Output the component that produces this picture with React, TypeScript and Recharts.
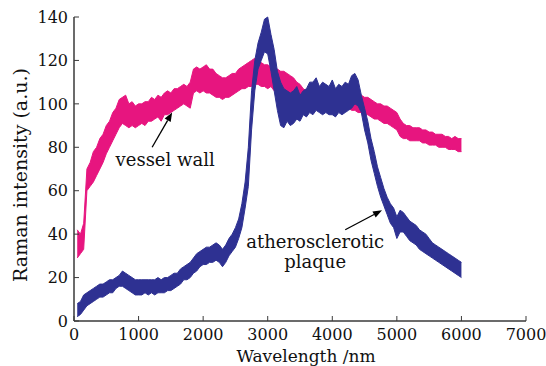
import { ComposedChart, Area, XAxis, YAxis, ReferenceLine } from 'recharts'

const wavelength = [
  50, 100, 150, 200, 250, 300, 350, 400, 450, 500,
  550, 600, 650, 700, 750, 800, 850, 900, 950, 1000,
  1050, 1100, 1150, 1200, 1250, 1300, 1350, 1400, 1450, 1500,
  1550, 1600, 1650, 1700, 1750, 1800, 1850, 1900, 1950, 2000,
  2050, 2100, 2150, 2200, 2250, 2300, 2350, 2400, 2450, 2500,
  2550, 2600, 2650, 2700, 2750, 2800, 2850, 2900, 2950, 3000,
  3050, 3100, 3150, 3200, 3250, 3300, 3350, 3400, 3450, 3500,
  3550, 3600, 3650, 3700, 3750, 3800, 3850, 3900, 3950, 4000,
  4050, 4100, 4150, 4200, 4250, 4300, 4350, 4400, 4450, 4500,
  4550, 4600, 4650, 4700, 4750, 4800, 4850, 4900, 4950, 5000,
  5050, 5100, 5150, 5200, 5250, 5300, 5350, 5400, 5450, 5500,
  5550, 5600, 5650, 5700, 5750, 5800, 5850, 5900, 5950, 6000,
]

// vessel wall: lower / upper edge of the noisy trace
const vesselLow = [
  29, 31, 33, 60, 62, 64, 67, 70, 73, 77,
  80, 83, 86, 89, 91, 90, 89, 90, 89, 90,
  91, 90, 92, 92, 93, 94, 92, 95, 95, 96,
  97, 98, 99, 100, 99, 98, 105, 106, 105, 106,
  105, 105, 104, 103, 103, 102, 103, 103, 104, 105,
  106, 107, 107, 108, 108, 109, 109, 108, 108, 107,
  108, 106, 106, 105, 104, 104, 103, 102, 101, 100,
  99, 98, 98, 97, 98, 97, 97, 98, 97, 97,
  97, 98, 97, 97, 98, 97, 97, 96, 96, 95,
  95, 94, 93, 93, 92, 91, 91, 90, 89, 88,
  85, 84, 84, 83, 83, 83, 83, 82, 82, 81,
  81, 81, 80, 80, 80, 79, 79, 79, 78, 78,
]
const vesselHigh = [
  42, 40, 45, 70, 73, 78, 80, 84, 86, 90,
  92, 96, 98, 102, 103, 104, 100, 101, 99, 100,
  100, 101, 101, 103, 102, 104, 103, 105, 106, 105,
  107, 107, 108, 109, 108, 110, 116, 117, 116, 117,
  118, 116, 116, 114, 113, 112, 112, 113, 114, 114,
  116, 117, 118, 119, 120, 121, 120, 119, 118, 118,
  117, 117, 116, 115, 115, 114, 113, 112, 110, 109,
  107, 106, 106, 105, 106, 105, 105, 106, 105, 105,
  105, 106, 105, 105, 106, 105, 105, 104, 104, 103,
  103, 102, 101, 100, 100, 99, 99, 98, 97, 96,
  93, 91, 90, 90, 89, 89, 89, 88, 88, 87,
  87, 86, 86, 86, 85, 85, 84, 85, 84, 84,
]

// atherosclerotic plaque: lower / upper edge
const plaqueLow = [
  2, 3, 5, 7, 8, 9, 10, 11, 11, 12,
  13, 13, 15, 16, 16, 15, 14, 13, 12, 12,
  12, 13, 12, 13, 12, 13, 13, 13, 14, 14,
  15, 16, 17, 19, 19, 20, 22, 23, 25, 26,
  26, 27, 27, 28, 27, 25, 27, 30, 32, 34,
  38, 43, 52, 62, 88, 106, 116, 120, 124, 123,
  115, 106, 97, 90, 89, 92, 90, 91, 93, 92,
  95, 94, 96, 95, 97, 96, 95, 96, 95, 95,
  94, 96, 95, 96, 97, 98, 100, 99, 96, 88,
  82, 74, 68, 62, 57, 53, 49, 45, 43, 38,
  41, 41, 39, 37, 36, 35, 33, 32, 31, 30,
  29, 28, 27, 26, 25, 24, 23, 22, 21, 20,
]
const plaqueHigh = [
  8, 9, 12, 13, 14, 15, 16, 17, 17, 18,
  19, 19, 20, 21, 23, 22, 21, 20, 19, 19,
  19, 19, 19, 19, 19, 20, 19, 20, 20, 21,
  22, 22, 24, 25, 26, 27, 29, 31, 32, 33,
  34, 34, 35, 36, 35, 33, 35, 38, 40, 43,
  47, 54, 64, 80, 106, 120, 128, 133, 139, 140,
  132, 125, 115, 110, 107, 106, 105, 106, 108, 104,
  106, 107, 110, 110, 112, 108, 110, 109, 108, 111,
  107, 109, 108, 110, 109, 113, 114, 111, 104, 98,
  92, 84, 78, 71, 66, 61, 57, 54, 52, 48,
  51, 50, 48, 46, 45, 44, 42, 41, 40, 38,
  36, 35, 34, 33, 32, 31, 30, 29, 28, 27,
]

const xTicks = [0, 1000, 2000, 3000, 4000, 5000, 6000, 7000]
const yTicks = [0, 20, 40, 60, 80, 100, 120, 140]

const data = wavelength.map((w, i) => ({
  w,
  vessel: [vesselLow[i], vesselHigh[i]],
  plaque: [plaqueLow[i], plaqueHigh[i]],
}))

const PINK = '#E7157F'
const BLUE = '#2E3192'
const AXIS = '#3a3a3a'
const FONT = 'DejaVu Serif'
const tickStyle = { fontSize: 16, fill: '#111', fontFamily: FONT }

const arrow = (lines: string[], dx: number, dy: number) => (p: any) => {
  const { x1, y1, x2, y2 } = p
  const ang = Math.atan2(y2 - y1, x2 - x1)
  const len = 9
  const w = 3.5
  const bx = x2 - len * Math.cos(ang)
  const by = y2 - len * Math.sin(ang)
  const px = -Math.sin(ang) * w
  const py = Math.cos(ang) * w
  return (
    <g>
      <line x1={x1} y1={y1} x2={bx} y2={by} stroke="#000" strokeWidth={1.3} />
      <polygon points={`${x2},${y2} ${bx + px},${by + py} ${bx - px},${by - py}`} fill="#000" />
      {lines.map((t, i) => (
        <text key={t} x={x1 + dx} y={y1 + dy + i * 20} textAnchor="middle"
          fontFamily={FONT} fontSize={18} fill="#111">{t}</text>
      ))}
    </g>
  )
}

const YLabel = (p: any) => {
  const vb = p.viewBox
  const cx = vb.x + 20
  const cy = vb.y + vb.height / 2 + 6
  return (
    <text x={cx} y={cy} transform={`rotate(-90, ${cx}, ${cy})`} textAnchor="middle"
      dominantBaseline="central" fontFamily={FONT} fontSize={19} fill="#111">
      Raman intensity (a.u.)
    </text>
  )
}

export default function App() {
  return (
    <div style={{ position: 'absolute', left: 0, top: 0, background: '#fff' }}>
      <ComposedChart width={546} height={366} data={data}
        margin={{ top: 17, right: 20, bottom: 0, left: 0 }}>
        <XAxis dataKey="w" type="number" domain={[0, 7000]} ticks={xTicks}
          tick={tickStyle} tickSize={-5} tickMargin={13} height={45}
          axisLine={{ stroke: AXIS, strokeWidth: 1.5 }} tickLine={{ stroke: AXIS }}
          label={{ value: 'Wavelength /nm', position: 'insideBottom', offset: 4, dx: 6,
            style: { fontFamily: FONT, fontSize: 17, fill: '#111' } }} />
        <XAxis xAxisId="top" orientation="top" type="number" domain={[0, 7000]} ticks={xTicks}
          tick={false} tickSize={-5} height={0}
          axisLine={{ stroke: AXIS, strokeWidth: 1.5 }} tickLine={{ stroke: AXIS }} />
        <YAxis type="number" domain={[0, 140]} ticks={yTicks} tick={tickStyle}
          tickSize={-5} tickMargin={11} width={74}
          axisLine={{ stroke: AXIS, strokeWidth: 1.5 }} tickLine={{ stroke: AXIS }}
          label={{ content: YLabel }} />
        <YAxis yAxisId="right" orientation="right" type="number" domain={[0, 140]} ticks={yTicks}
          tick={false} tickSize={-5} width={0}
          axisLine={{ stroke: AXIS, strokeWidth: 1.5 }} tickLine={{ stroke: AXIS }} />
        <Area dataKey="vessel" type="linear" stroke={PINK} strokeWidth={1} fill={PINK}
          fillOpacity={1} dot={false} activeDot={false} isAnimationActive={false} />
        <Area dataKey="plaque" type="linear" stroke={BLUE} strokeWidth={1} fill={BLUE}
          fillOpacity={1} dot={false} activeDot={false} isAnimationActive={false} />
        <ReferenceLine segment={[{ x: 1210, y: 80 }, { x: 1520, y: 96 }]}
          shape={arrow(['vessel wall'], 13, 19)} />
        <ReferenceLine segment={[{ x: 4200, y: 42 }, { x: 4770, y: 51 }]}
          shape={arrow(['atherosclerotic', 'plaque'], -30, 18)} />
      </ComposedChart>
    </div>
  )
}
